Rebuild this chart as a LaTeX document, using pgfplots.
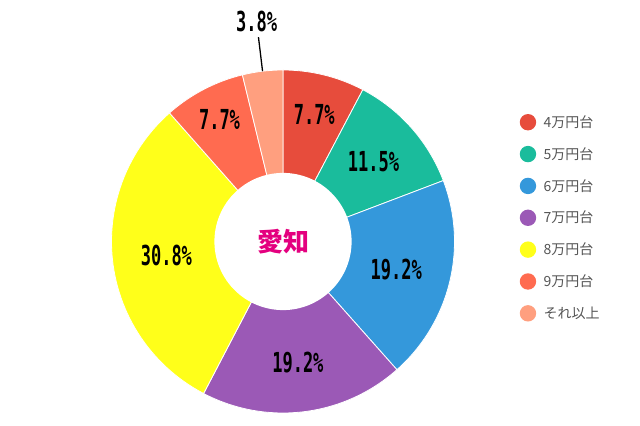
\documentclass[border=0pt]{standalone}
\usepackage{pgfplots}
\pgfplotsset{compat=1.18}
\usepackage{pgfplotstable}
\usepackage{fontspec}
\newfontfamily\jpfont{Noto Sans CJK JP}
\newfontfamily\numfont{DejaVu Sans Mono}

\definecolor{c0}{HTML}{E74C3C}
\definecolor{c1}{HTML}{1ABC9C}
\definecolor{c2}{HTML}{3498DB}
\definecolor{c3}{HTML}{9B59B6}
\definecolor{c4}{HTML}{FFFF1A}
\definecolor{c5}{HTML}{FF6B50}
\definecolor{c6}{HTML}{FF9F7F}
\definecolor{centre}{HTML}{E4007F}
\definecolor{legtext}{HTML}{555555}

% share of each price band (percent), label radius
\pgfplotstableread{
name pct lr
4万円台 7.7 0.76
5万円台 11.5 0.705
6万円台 19.2 0.68
7万円台 19.2 0.71
8万円台 30.8 0.685
9万円台 7.7 0.80
それ以上 3.8 1.29
}\piedata

% start / end / middle angle of each slice, clockwise from the top
\gdef\cum{0}
\pgfplotsforeachungrouped \i in {0,...,6}{%
  \pgfplotstablegetelem{\i}{pct}\of\piedata \let\pv\pgfplotsretval
  \pgfplotstablegetelem{\i}{lr}\of\piedata \let\rv\pgfplotsretval
  \pgfplotstablegetelem{\i}{name}\of\piedata \let\nv\pgfplotsretval
  \pgfmathsetmacro\av{90-(\cum+\pv)*3.6036}%
  \pgfmathsetmacro\bv{90-\cum*3.6036}%
  \pgfmathsetmacro\mv{(\av+\bv)/2}%
  \expandafter\xdef\csname pa\i\endcsname{\av}%
  \expandafter\xdef\csname pb\i\endcsname{\bv}%
  \expandafter\xdef\csname pm\i\endcsname{\mv}%
  \expandafter\xdef\csname pr\i\endcsname{\rv}%
  \expandafter\xdef\csname pp\i\endcsname{\pv}%
  \expandafter\xdef\csname nm\i\endcsname{\nv}%
  \pgfmathsetmacro\nc{\cum+\pv}\xdef\cum{\nc}%
}

\newcommand\lbl[1]{\scalebox{1}[1.62]{\numfont\bfseries\fontsize{17bp}{20bp}\selectfont #1\%}}

\begin{document}
\begin{tikzpicture}
\useasboundingbox (0,0) rectangle (640bp,426bp);
\begin{axis}[
  at={(283bp,184.5bp)}, anchor=origin,
  x=171.5bp, y=171.5bp,
  xmin=-1, xmax=1, ymin=-1, ymax=1,
  hide axis, clip=false,
  legend image code/.code={\fill[#1, draw=none] (8bp,0bp) circle (8.2bp);},
  legend style={
    at={(axis description cs:1.181,0.878)}, anchor=north west,
    draw=none, fill=none, row sep=15.45bp, column sep=6bp,
    font=\jpfont\fontsize{14bp}{16bp}\selectfont\color{legtext},
    cells={anchor=west},
    nodes={inner sep=1.5bp},
  },
]
\pgfplotsinvokeforeach{0,...,6}{
  \addplot[fill=c#1, draw=white, line width=0.8pt,
    domain={\csname pa#1\endcsname}:{\csname pb#1\endcsname}, samples=60]
    ({cos(x)},{sin(x)}) -- (axis cs:0,0) -- cycle;
  \addlegendentryexpanded{\csname nm#1\endcsname}
}
% hole of the ring
\addplot[fill=white, draw=none, domain=0:360, samples=120, forget plot]
  ({0.4*cos(x)},{0.4*sin(x)}) -- cycle;

\pgfplotsinvokeforeach{0,...,6}{
  \node at (axis cs:{\csname pr#1\endcsname*cos(\csname pm#1\endcsname)},
                    {\csname pr#1\endcsname*sin(\csname pm#1\endcsname)})
    {\lbl{\csname pp#1\endcsname}};
}
% leader line of the smallest slice
\draw[black, line width=1.3pt]
  (axis cs:{cos(\csname pm6\endcsname)},{sin(\csname pm6\endcsname)})
  -- (axis cs:{1.2*cos(\csname pm6\endcsname)},{1.2*sin(\csname pm6\endcsname)});

\node[font=\jpfont\bfseries\fontsize{26bp}{30bp}\selectfont, text=centre]
  at (axis cs:0,0) {愛知};
\end{axis}
\end{tikzpicture}
\end{document}
